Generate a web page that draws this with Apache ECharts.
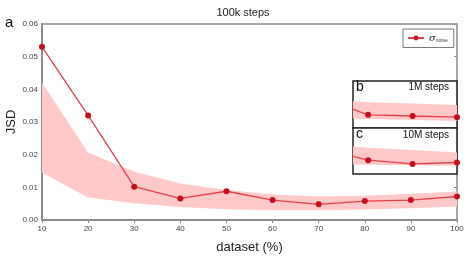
<!DOCTYPE html>
<html><head><meta charset="utf-8">
<script src="https://cdn.jsdelivr.net/npm/echarts@6/dist/echarts.min.js"></script>
<style>html,body{margin:0;padding:0;background:#fff}#c{width:474px;height:259px}</style>
</head><body><div id="c"></div>
<script>
// ---- data ----
const dataset = [10, 20, 30, 40, 50, 60, 70, 80, 90, 100];
const jsd100k = [0.053, 0.032, 0.0102, 0.0066, 0.0088, 0.0061, 0.0048, 0.0058, 0.0061, 0.0072];
const band100kLow = [0.0145, 0.0069, 0.0051, 0.0040, 0.0033, 0.0030, 0.0030, 0.0032, 0.0036, 0.0041];
const band100kHigh = [0.042, 0.0207, 0.0148, 0.0112, 0.0092, 0.0078, 0.0072, 0.0074, 0.0080, 0.0087];

const insetX = [70, 80, 90, 100];
const jsd1M = [0.0063, 0.0028, 0.00255, 0.0023];
const band1MLow = [0.0022, 0.0019, 0.0017, 0.0015];
const band1MHigh = [0.0062, 0.0055, 0.0052, 0.0049];
const jsd10M = [0.0054, 0.0030, 0.0022, 0.0025];
const band10MLow = [0.0022, 0.0020, 0.0019, 0.0018];
const band10MHigh = [0.0065, 0.0057, 0.0052, 0.0047];

const yTicks = ['0.00', '0.01', '0.02', '0.03', '0.04', '0.05', '0.06'];
const xTicks = ['10', '20', '30', '40', '50', '60', '70', '80', '90', '100'];

const LINE = '#e8404a', MARK = '#c30f1e', BAND = '#ffc9c9';
const pairs = (xs, ys) => xs.map((x, i) => [x, ys[i]]);

function bandSeries(xi, yi, xs, lo, hi, z) {
  const rows = xs.map((x, i) => [x, lo[i], hi[i]]);
  return {
    type: 'custom', xAxisIndex: xi, yAxisIndex: yi, data: rows, silent: true, clip: true, z: z,
    encode: {x: 0, y: [1, 2]},
    renderItem: function (params, api) {
      if (params.dataIndex !== 0) return null;
      const up = rows.map(r => api.coord([r[0], r[2]]));
      const dn = rows.slice().reverse().map(r => api.coord([r[0], r[1]]));
      const cs = params.coordSys;
      return {
        type: 'polygon', shape: {points: up.concat(dn)}, style: {fill: BAND},
        clipPath: {type: 'rect', shape: {x: cs.x, y: cs.y, width: cs.width, height: cs.height}}
      };
    }
  };
}
function mainLine(name, xi, yi, xs, ys) {
  return {type: 'line', name: name, xAxisIndex: xi, yAxisIndex: yi, data: pairs(xs, ys),
    symbol: 'circle', symbolSize: 6, showSymbol: true,
    lineStyle: {color: LINE, width: 1.3}, itemStyle: {color: MARK}, z: 3};
}

const chart = echarts.init(document.getElementById('c'), null, {renderer: 'canvas'});
const axisGray = '#8a8a8a';
chart.setOption({
  animation: false,
  title: {text: '100k steps', left: 238, textAlign: 'center', top: 2,
    textStyle: {fontSize: 11, fontWeight: 'normal', color: '#222', fontFamily: 'Liberation Sans'}},
  legend: {
    data: ['sigma'], left: 403, top: 29, padding: [4, 6, 4, 4], itemWidth: 16, itemHeight: 6,
    borderColor: '#777', borderWidth: 1, backgroundColor: '#fff',
    formatter: () => '{s|σ}{sub|noise}',
    textStyle: {rich: {s: {fontSize: 10, fontStyle: 'italic', color: '#222', fontFamily: 'DejaVu Serif'},
                       sub: {fontSize: 5, color: '#444', verticalAlign: 'bottom', padding: [6, 0, 0, 0]}}}
  },
  grid: [
    {left: 42, right: 17, top: 24, bottom: 39, show: true, borderColor: axisGray, borderWidth: 1.5, outerBoundsMode: 'none', containLabel: false},
    {left: 353, top: 81, width: 104, height: 47, show: true, borderColor: '#222', borderWidth: 1.5, backgroundColor: '#fff', z: 5, outerBoundsMode: 'none'},
    {left: 353, top: 128, width: 104, height: 46, show: true, borderColor: '#222', borderWidth: 1.5, backgroundColor: '#fff', z: 5, outerBoundsMode: 'none'}
  ],
  xAxis: [
    {type: 'value', gridIndex: 0, min: 10, max: 100, interval: 10,
     name: 'dataset (%)', nameLocation: 'middle', nameGap: 21, nameMoveOverlap: false,
     nameTextStyle: {fontSize: 13, color: '#222', fontFamily: 'Liberation Sans'},
     axisLine: {lineStyle: {color: axisGray, width: 2}},
     axisTick: {show: false},
     axisLabel: {fontSize: 8, color: '#444', margin: 5, formatter: (v) => xTicks[Math.round(v / 10) - 1]},
     splitLine: {show: false}},
    {type: 'value', gridIndex: 0, position: 'top', min: 10, max: 100, interval: 10,
     axisLine: {show: false}, axisTick: {show: true, inside: true, length: 3, lineStyle: {color: axisGray}},
     axisLabel: {show: false}, splitLine: {show: false}},
    {type: 'value', gridIndex: 1, min: 76.6, max: 100,
     axisLine: {show: false}, axisTick: {show: true, inside: true, length: 3, customValues: [80, 90], lineStyle: {color: '#555'}},
     axisLabel: {show: false}, splitLine: {show: false}},
    {type: 'value', gridIndex: 2, min: 76.6, max: 100,
     axisLine: {show: false}, axisTick: {show: true, inside: true, length: 3, customValues: [80, 90], lineStyle: {color: '#555'}},
     axisLabel: {show: false}, splitLine: {show: false}}
  ],
  yAxis: [
    {type: 'value', gridIndex: 0, min: 0, max: 0.06, interval: 0.01,
     name: 'JSD', nameLocation: 'middle', nameGap: 24, nameRotate: 90, nameMoveOverlap: false,
     nameTextStyle: {fontSize: 13, color: '#222', fontFamily: 'Liberation Sans'},
     axisLine: {lineStyle: {color: axisGray, width: 2}},
     axisTick: {show: false},
     axisLabel: {fontSize: 8, color: '#444', margin: 4, formatter: (v) => yTicks[Math.round(v * 100)]},
     splitLine: {show: false}},
    {type: 'value', gridIndex: 0, position: 'right', min: 0, max: 0.06, interval: 0.01,
     axisLine: {show: false}, axisTick: {show: true, inside: true, length: 3, lineStyle: {color: axisGray}},
     axisLabel: {show: false}, splitLine: {show: false}},
    {type: 'value', gridIndex: 1, min: 0, max: 0.01, position: 'right',
     axisLine: {show: false}, axisTick: {show: true, inside: true, length: 3, customValues: [0.005], lineStyle: {color: '#777'}},
     axisLabel: {show: false}, splitLine: {show: false}},
    {type: 'value', gridIndex: 2, min: 0, max: 0.01, position: 'right',
     axisLine: {show: false}, axisTick: {show: true, inside: true, length: 3, customValues: [0.005], lineStyle: {color: '#777'}},
     axisLabel: {show: false}, splitLine: {show: false}}
  ],
  graphic: [
    {type: 'text', left: 5, top: 15, style: {text: 'a', fontSize: 15, fill: '#111', fontFamily: 'Liberation Sans'}},
    {type: 'text', left: 356, top: 80, z: 100, style: {text: 'b', fontSize: 14, fill: '#111', fontFamily: 'Liberation Sans'}},
    {type: 'text', right: 25, top: 82, z: 100, style: {text: '1M steps', fontSize: 10, fill: '#111', fontFamily: 'Liberation Sans'}},
    {type: 'text', left: 356, top: 127, z: 100, style: {text: 'c', fontSize: 14, fill: '#111', fontFamily: 'Liberation Sans'}},
    {type: 'text', right: 25, top: 130, z: 100, style: {text: '10M steps', fontSize: 10, fill: '#111', fontFamily: 'Liberation Sans'}}
  ],
  series: [
    bandSeries(0, 0, dataset, band100kLow, band100kHigh, 1),
    Object.assign(mainLine('sigma', 0, 0, dataset, jsd100k), {clip: false}),
    bandSeries(2, 2, insetX, band1MLow, band1MHigh, 6),
    Object.assign(mainLine('s1M', 2, 2, insetX, jsd1M), {z: 7}),
    bandSeries(3, 3, insetX, band10MLow, band10MHigh, 6),
    Object.assign(mainLine('s10M', 3, 3, insetX, jsd10M), {z: 7})
  ]
});
</script></body></html>
